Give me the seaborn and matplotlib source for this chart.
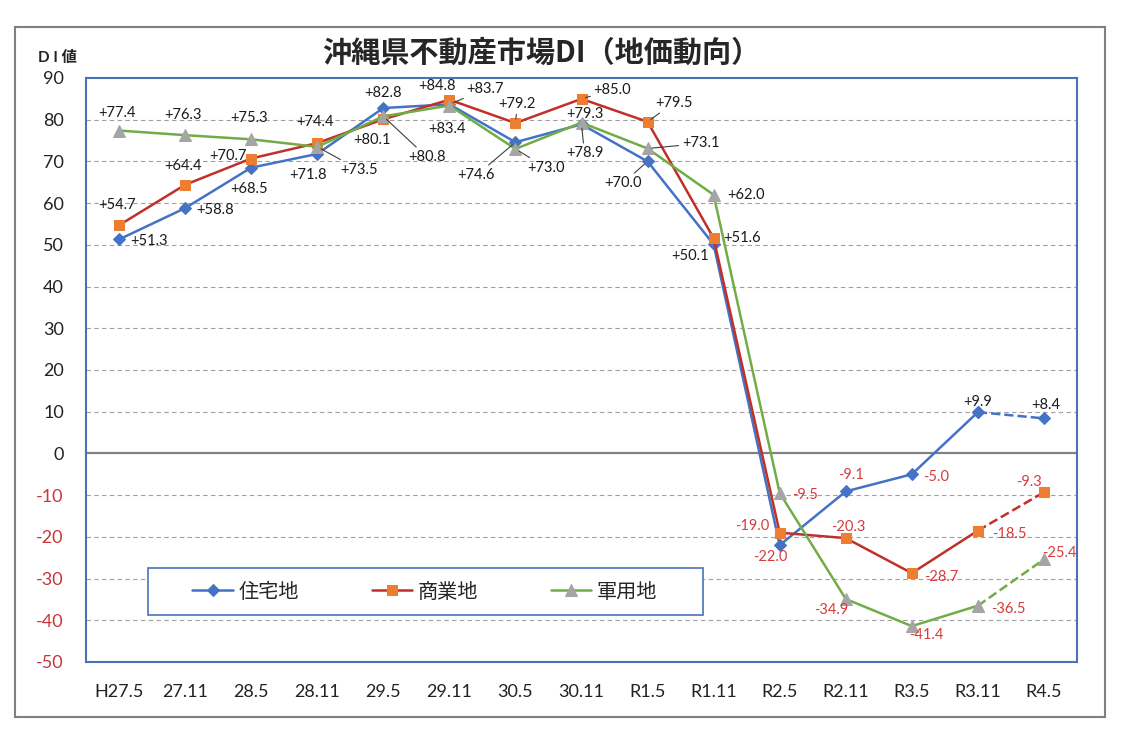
import numpy as np
import pandas as pd
import seaborn as sns
import matplotlib.pyplot as plt
from matplotlib.patches import Rectangle

# data
periods = ['H27.5', '27.11', '28.5', '28.11', '29.5', '29.11', '30.5', '30.11',
           'R1.5', 'R1.11', 'R2.5', 'R2.11', 'R3.5', 'R3.11', 'R4.5']
residential = [51.3, 58.8, 68.5, 71.8, 82.8, 83.7, 74.6, 78.9, 70.0, 50.1, -22.0, -9.1, -5.0, 9.9, 8.4]
commercial = [54.7, 64.4, 70.7, 74.4, 80.1, 84.8, 79.2, 85.0, 79.5, 51.6, -19.0, -20.3, -28.7, -18.5, -9.3]
military = [77.4, 76.3, 75.3, 73.5, 80.8, 83.4, 73.0, 79.3, 73.1, 62.0, -9.5, -34.9, -41.4, -36.5, -25.4]
series_names = ['住宅地', '商業地', '軍用地']

df = pd.DataFrame({'idx': np.arange(len(periods)), 'period': periods,
                   '住宅地': residential, '商業地': commercial, '軍用地': military})
long = df.melt(id_vars=['idx', 'period'], var_name='種別', value_name='DI')

# styles
styles = {
    '住宅地': dict(color='#4472C4', marker='D', markersize=6, markerfacecolor='#4472C4', markeredgecolor='#4472C4'),
    '商業地': dict(color='#C0302B', marker='s', markersize=7.5, markerfacecolor='#ED7D31', markeredgecolor='#ED7D31'),
    '軍用地': dict(color='#70AD47', marker='^', markersize=8, markerfacecolor='#A5A5A5', markeredgecolor='#A5A5A5'),
}
# label offsets in pixels (dx, dy) and which labels get a leader line
label_offsets = {
    '住宅地': [(30, -2), (30, -2), (-2, -21), (-9, -21), (0, 15), (36, 15), (-39, -33), (3, -29),
            (-25, -22), (-24, -12), (-9, -12), (5, 16), (24, -3), (0, 10), (2, 13)],
    '商業地': [(-2, 20), (-2, 19), (-23, 3), (-2, 21), (-11, -21), (-12, 14), (2, 19), (31, 9),
            (26, 19), (28, 0), (-27, 7), (3, 11), (29, -4), (31, -3), (-15, 10)],
    '軍用地': [(-2, 18), (-2, 20), (-2, 21), (42, -23), (44, -41), (-2, -23), (31, -19), (3, 9),
            (53, 5), (32, 0), (25, -2), (-15, -11), (14, -9), (30, -3), (15, 6)],
}
leaders = {'住宅地': {5, 6, 7, 8}, '商業地': {6, 7, 8}, '軍用地': {3, 4, 6, 8}}

sns.set_theme(style='white')
plt.rcParams['font.family'] = ['Lato', 'Noto Sans CJK JP', 'DejaVu Sans']
plt.rcParams['axes.unicode_minus'] = False

fig = plt.figure(figsize=(11.23, 7.37), dpi=100)
ax = fig.add_axes([86 / 1123, 1 - 662 / 737, 991 / 1123, 584 / 737])

last = len(periods) - 1
for name in series_names:
    st = styles[name]
    sub = long[long['種別'] == name]
    sns.lineplot(data=sub[sub['idx'] <= last - 1], x='idx', y='DI', ax=ax, linewidth=1.8,
                 label=name, zorder=3, **st)
    sns.lineplot(data=sub[sub['idx'] >= last - 1], x='idx', y='DI', ax=ax, linewidth=1.8,
                 linestyle='--', label='_nolegend_', legend=False, zorder=3, **st)

# data labels
for name, vals in zip(series_names, [residential, commercial, military]):
    for i, v in enumerate(vals):
        dx, dy = label_offsets[name][i]
        arrow = None
        if i in leaders[name]:
            arrow = dict(arrowstyle='-', color='#404040', lw=0.8, shrinkA=0, shrinkB=3)
        ax.annotate(f'{v:+.1f}', xy=(i, v), xytext=(dx, dy), textcoords='offset pixels',
                    ha='center', va='center', fontsize=10.5,
                    color='#1a1a1a' if v >= 0 else '#D63C3C', arrowprops=arrow, zorder=6)

# axes
ax.set_xlim(-0.5, last + 0.5)
ax.set_ylim(-50, 90)
ax.set_xticks(range(len(periods)))
ax.set_xticklabels(periods)
ax.set_yticks(range(-50, 91, 10))
ax.set_yticklabels([str(t) for t in range(-50, 91, 10)])
for lab, t in zip(ax.get_yticklabels(), range(-50, 91, 10)):
    lab.set_color('#222222' if t >= 0 else '#C8353A')
ax.tick_params(axis='x', length=0, pad=16, labelsize=13, labelcolor='#222222')
ax.tick_params(axis='y', length=0, pad=16, labelsize=13)
ax.set_xlabel('')
ax.set_ylabel('')

for t in range(-40, 90, 10):
    if t == 0:
        ax.axhline(0, color='#808080', lw=1.6, zorder=1)
    else:
        ax.axhline(t, color='#A0A0A0', lw=0.8, linestyle=(0, (4, 3)), zorder=1)

for sp in ax.spines.values():
    sp.set_color('#4A72B8')
    sp.set_linewidth(1.5)

# legend with its own box
ax.add_patch(Rectangle((62 / 991, 47 / 584), 555 / 991, 47 / 584, transform=ax.transAxes,
                       facecolor='white', edgecolor='#4A72B8', lw=1.2, zorder=4))
handles, labels = ax.get_legend_handles_labels()
ax.legend(handles, labels, loc='center', bbox_to_anchor=(339 / 991, 71 / 584), ncol=3,
          frameon=False, fontsize=14.5, handlelength=2.0, handletextpad=0.3, columnspacing=3.6)

# title, y label, outer frame
fig.text(541 / 1123, 1 - 53 / 737, '沖縄県不動産市場DI（地価動向）', ha='center', va='center',
         fontsize=21, fontweight='bold', family=['Noto Sans CJK JP'])
fig.text(38 / 1123, 1 - 58 / 737, 'D I 値', ha='left', va='center', fontsize=11,
         fontweight='bold', color='#222222')
fig.add_artist(Rectangle((15 / 1123, 1 - 717 / 737), 1090 / 1123, 690 / 737,
                         transform=fig.transFigure, fill=False, edgecolor='#808080', lw=1.5))

fig.savefig('out.png', dpi=100)
